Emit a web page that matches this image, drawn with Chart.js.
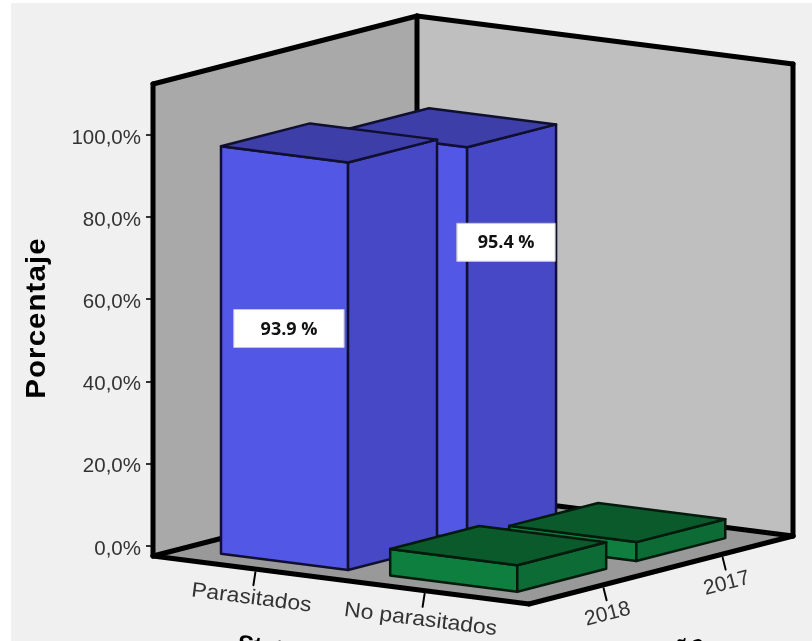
<!DOCTYPE html>
<html lang="en">
<head>
  <meta charset="UTF-8" />
  <title>Porcentaje de parasitados</title>
  <style>
    html, body { margin: 0; background: #fff; }
    #wrap { position: relative; width: 812px; height: 641px; overflow: hidden; }
    #panel { position: absolute; left: 11px; top: 3px; right: 0; bottom: 0; background: #f0f0f0; }
    canvas { position: absolute; left: 0; top: 0; }
  </style>
</head>
<body>
<div id="wrap">
  <div id="panel"></div>
  <canvas id="chart" width="812" height="641"></canvas>
</div>

<script src="https://cdn.jsdelivr.net/npm/chart.js"></script>
<script>
  const categories = ['Parasitados', 'No parasitados'];
  const years = ['2018', '2017'];
  const values2018 = [93.9, 6.1];
  const values2017 = [95.4, 4.6];
  const tickValues = [0, 20, 40, 60, 80, 100];

  // Box geometry: floor corner and the two floor edges, in canvas pixels
  const origin = { x: 153, y: 556 };
  const edgeX = { x: 376, y: 48 };
  const edgeZ = { x: 264, y: -68 };
  const wallHeight = 472;

  // Which stretch of the floor edges the hidden scales cover
  const spanX = [0.05, 0.95];
  const spanZ = [0.0495, 0.9515];
  const barFill = 0.751;
  const depthFill = 0.747;

  // Nearer row comes out slightly taller than the wall ticks
  const rowGain = { '2018': 1.056, '2017': 1.0 };

  const blue = { front: '#5257e6', side: '#4748c6', top: '#3d3ea8', line: '#10102e' };
  const green = { front: '#0f7f3f', side: '#0d6c36', top: '#0a5a2c', line: '#031a0c' };
  const barColors = [blue, green];

  // White value boxes, placed relative to the bar's front top corner
  const labelBoxes = {
    '2018': { dx: -59, dy: 166, w: 110, h: 38 },
    '2017': { dx: 39, dy: 95, w: 98, h: 38 }
  };

  const textFont = '"Liberation Sans", Arial, sans-serif';

  function floorPoint(a, b) {
    return { x: origin.x + a * edgeX.x + b * edgeZ.x, y: origin.y + a * edgeX.y + b * edgeZ.y };
  }

  function poly(ctx, pts, fill, stroke, width) {
    ctx.beginPath();
    pts.forEach((p, i) => (i ? ctx.lineTo(p.x, p.y) : ctx.moveTo(p.x, p.y)));
    ctx.closePath();
    if (fill) { ctx.fillStyle = fill; ctx.fill(); }
    if (stroke) {
      ctx.strokeStyle = stroke;
      ctx.lineWidth = width;
      ctx.lineJoin = 'round';
      ctx.stroke();
    }
  }

  function seg(ctx, p, q, width) {
    ctx.beginPath();
    ctx.moveTo(p.x, p.y);
    ctx.lineTo(q.x, q.y);
    ctx.strokeStyle = '#000';
    ctx.lineWidth = width;
    ctx.lineCap = 'round';
    ctx.stroke();
  }

  function up(p, h) {
    return { x: p.x, y: p.y - h };
  }

  function slantedText(ctx, text, x, y, angle, font, color, stretch = 1, spacing = '0px') {
    ctx.save();
    ctx.translate(x, y);
    ctx.rotate(angle);
    ctx.scale(stretch, 1);
    ctx.font = font;
    ctx.letterSpacing = spacing;
    ctx.fillStyle = color;
    ctx.textAlign = 'center';
    ctx.textBaseline = 'middle';
    ctx.fillText(text, 0, 0);
    ctx.restore();
  }

  function toSpan(scale, px, span) {
    const t = (px - scale.left) / scale.width;
    return span[0] + t * (span[1] - span[0]);
  }

  // Walls and floor go under the datasets
  const roomPlugin = {
    id: 'room',
    beforeDatasetsDraw(chart) {
      const ctx = chart.ctx;
      const A = floorPoint(0, 0), B = floorPoint(1, 0), C = floorPoint(1, 1), D = floorPoint(0, 1);
      poly(ctx, [A, up(A, wallHeight), up(D, wallHeight), D], '#a9a9a9');
      poly(ctx, [D, up(D, wallHeight), up(C, wallHeight), C], '#bfbfbf');
      poly(ctx, [A, B, C, D], '#999999');
      seg(ctx, A, up(A, wallHeight), 5);
      seg(ctx, up(A, wallHeight), up(D, wallHeight), 5);
      seg(ctx, up(D, wallHeight), up(C, wallHeight), 5);
      seg(ctx, up(C, wallHeight), C, 5);
      seg(ctx, D, up(D, wallHeight), 5);
      seg(ctx, A, D, 5);
      seg(ctx, D, C, 5);
      seg(ctx, A, B, 5);
      seg(ctx, B, C, 5);

      // Category and year axes run along the floor edges
      const xs = chart.scales.x, zs = chart.scales.z;
      const angX = Math.atan2(edgeX.y, edgeX.x), angZ = Math.atan2(edgeZ.y, edgeZ.x);
      categories.forEach((name, i) => {
        const a = toSpan(xs, xs.getPixelForTick(i), spanX);
        const p = floorPoint(a, 0);
        seg(ctx, { x: p.x - 1, y: p.y + 3 }, { x: p.x - 3, y: p.y + 16 }, 2);
        slantedText(ctx, name, p.x - 5, p.y + 29, angX, '21px ' + textFont, '#333', 1.09);
      });
      years.forEach((name, i) => {
        const b = toSpan(zs, zs.getPixelForTick(i), spanZ);
        const p = floorPoint(1, b);
        seg(ctx, { x: p.x + 2, y: p.y + 3 }, { x: p.x + 5, y: p.y + 15 }, 2);
        slantedText(ctx, name, p.x + 6, p.y + 29, angZ, '21px ' + textFont, '#333');
      });

      // Axis titles, cut off by the bottom of the frame
      slantedText(ctx, 'Status', 274, 649, angX, 'bold 24px ' + textFont, '#000');
      slantedText(ctx, 'año', 684, 649, angZ, 'bold 24px ' + textFont, '#000');

      slantedText(ctx, 'Porcentaje', 38, 318, -Math.PI / 2, 'bold 27px ' + textFont, '#000', 1.09, '1px');
    }
  };

  // Draws each bar as a box on the floor, using the element positions Chart.js worked out
  const boxPlugin = {
    id: 'boxes',
    afterDatasetsDraw(chart) {
      const ctx = chart.ctx;
      const xs = chart.scales.x, zs = chart.scales.z, ys = chart.scales.y;
      const halfZ = (zs.getPixelForTick(1) - zs.getPixelForTick(0)) * depthFill / 2;

      // Back row first so the nearer row overlaps it
      for (let d = chart.data.datasets.length - 1; d >= 0; d--) {
        const year = chart.data.datasets[d].label;
        const gain = rowGain[year];
        const z = zs.getPixelForTick(d);
        const b0 = toSpan(zs, z - halfZ, spanZ), b1 = toSpan(zs, z + halfZ, spanZ);
        chart.getDatasetMeta(d).data.forEach((bar, i) => {
          const a0 = toSpan(xs, bar.x - bar.width / 2, spanX);
          const a1 = toSpan(xs, bar.x + bar.width / 2, spanX);
          const h = (ys.getPixelForValue(0) - bar.y) * gain;
          const c = barColors[i];
          const fl = floorPoint(a0, b0), fr = floorPoint(a1, b0);
          const br = floorPoint(a1, b1), bl = floorPoint(a0, b1);
          poly(ctx, [fl, fr, up(fr, h), up(fl, h)], c.front, c.line, 2.5);
          poly(ctx, [fr, br, up(br, h), up(fr, h)], c.side, c.line, 2.5);
          poly(ctx, [up(fl, h), up(fr, h), up(br, h), up(bl, h)], c.top, c.line, 2.5);

          const box = i === 0 && labelBoxes[year];
          if (box) {
            const t = up(fr, h);
            const cx = t.x + box.dx, cy = t.y + box.dy;
            ctx.fillStyle = '#fff';
            ctx.strokeStyle = '#c8c8c8';
            ctx.lineWidth = 1;
            ctx.fillRect(cx - box.w / 2, cy - box.h / 2, box.w, box.h);
            ctx.strokeRect(cx - box.w / 2, cy - box.h / 2, box.w, box.h);
            ctx.fillStyle = '#111';
            ctx.font = 'bold 18px "Open Sans", sans-serif';
            ctx.textAlign = 'center';
            ctx.textBaseline = 'middle';
            ctx.fillText(chart.data.datasets[d].data[i].toFixed(1) + ' %', cx, cy + 1);
          }
        });
      }
    }
  };

  new Chart(document.getElementById('chart').getContext('2d'), {
    type: 'bar',
    data: {
      labels: categories,
      datasets: [
        { label: years[0], data: values2018, backgroundColor: 'transparent' },
        { label: years[1], data: values2017, backgroundColor: 'transparent' }
      ]
    },
    options: {
      responsive: false,
      animation: false,
      layout: { padding: { left: 0, top: 135, right: 19, bottom: 95 } },
      plugins: { legend: { display: false }, tooltip: { enabled: false } },
      datasets: { bar: { grouped: false, barPercentage: barFill, categoryPercentage: 1 } },
      scales: {
        x: { display: false },
        z: { type: 'category', axis: 'x', labels: years, display: false },
        y: {
          min: 0,
          max: 100,
          afterBuildTicks(scale) { scale.ticks = tickValues.map(v => ({ value: v })); },
          afterFit(scale) { scale.width = 153; },
          border: { display: false },
          grid: { drawOnChartArea: false, drawTicks: true, tickLength: 7, tickColor: '#333', lineWidth: 2 },
          ticks: {
            padding: 5,
            labelOffset: 3,
            color: '#333',
            font: { family: textFont, size: 20.5 },
            callback: v => v.toFixed(1).replace('.', ',') + '%'
          }
        }
      }
    },
    plugins: [roomPlugin, boxPlugin]
  });
</script>
</body>
</html>
